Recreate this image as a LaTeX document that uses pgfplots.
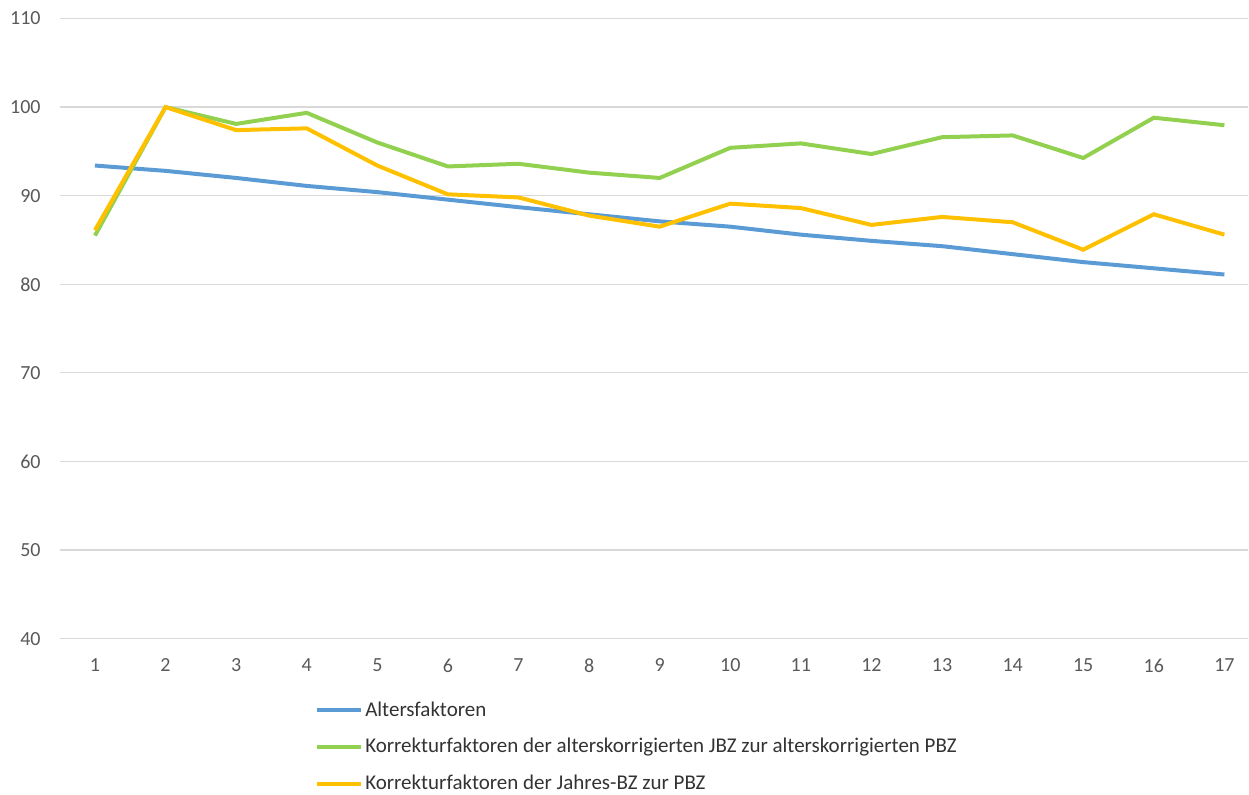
\documentclass[border=0pt]{standalone}
\usepackage{fontspec}
\setmainfont{Carlito}
\usepackage{pgfplots}
\pgfplotsset{compat=1.18}
\definecolor{cblue}{HTML}{5B9BD5}
\definecolor{cgreen}{HTML}{92D050}
\definecolor{corange}{HTML}{FFC000}
\definecolor{gridc}{HTML}{D9D9D9}
\definecolor{tickc}{HTML}{595959}
\begin{document}
\begin{tikzpicture}
\begin{axis}[
  width=594.7pt, height=310.25pt, scale only axis,
  xmin=0.5, xmax=17.34, ymin=40, ymax=110,
  xtick={1,...,17}, ytick={40,50,...,110},
  axis line style={draw=none},
  major tick length=0pt,
  ymajorgrids, grid style={gridc, line width=0.6pt},
  tick label style={font=\fontsize{10}{12}\selectfont, text=tickc},
  /pgf/number format/assume math mode=true,
  xticklabel style={yshift=-6.5pt},
  yticklabel style={xshift=-6pt},
  clip=false,
  legend style={at={(0.2147,-0.0975)}, anchor=north west, draw=none, fill=none,
    font=\fontsize{10.5}{12.6}\selectfont, text=black!80, row sep=7.6pt, inner sep=0pt,
    nodes={inner sep=1pt}},
  legend cell align=left,
  legend image code/.code={\draw[#1, line width=2pt] (0pt,0pt) -- (22pt,0pt);},
]
\addplot[cblue, line width=2pt] coordinates {
(1,93.4) (2,92.8) (3,92.0) (4,91.1) (5,90.4) (6,89.55) (7,88.7) (8,87.9) (9,87.1)
(10,86.5) (11,85.6) (12,84.9) (13,84.3) (14,83.4) (15,82.5) (16,81.8) (17,81.1)};
\addlegendentry{Altersfaktoren}
\addplot[cgreen, line width=2pt] coordinates {
(1,85.5) (2,100) (3,98.1) (4,99.35) (5,96.0) (6,93.3) (7,93.6) (8,92.6) (9,92.0)
(10,95.4) (11,95.9) (12,94.7) (13,96.6) (14,96.8) (15,94.25) (16,98.8) (17,97.95)};
\addlegendentry{Korrekturfaktoren der alterskorrigierten JBZ zur alterskorrigierten PBZ}
\addplot[corange, line width=2pt] coordinates {
(1,86.1) (2,100) (3,97.4) (4,97.6) (5,93.4) (6,90.15) (7,89.8) (8,87.75) (9,86.5)
(10,89.1) (11,88.6) (12,86.7) (13,87.6) (14,87.0) (15,83.9) (16,87.9) (17,85.6)};
\addlegendentry{Korrekturfaktoren der Jahres-BZ zur PBZ}
\path (rel axis cs:-0.0502,-0.245) rectangle (rel axis cs:1,1.0298);
\end{axis}
\end{tikzpicture}
\end{document}
